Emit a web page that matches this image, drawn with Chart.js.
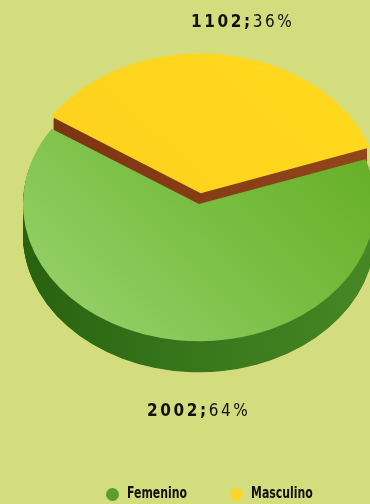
<!DOCTYPE html>
<html>
<head>
<meta charset="utf-8">
<script src="https://cdn.jsdelivr.net/npm/chart.js@4.4.0/dist/chart.umd.min.js"></script>
<style>
  html, body { margin:0; padding:0; background:#d3dd7d; width:370px; height:504px; overflow:hidden; }
  #wrap { position:absolute; left:0; top:0; width:370px; height:504px; }
  .lbl { position:absolute; font-family:"Liberation Sans Narrow","DejaVu Sans Condensed","Open Sans",sans-serif; font-size:17px; color:#111; letter-spacing:2.6px; white-space:nowrap; }
  .lbl b { font-weight:bold; }
  .leg { position:absolute; font-family:"DejaVu Sans Condensed",sans-serif; font-weight:bold; font-size:15px; color:#111; white-space:nowrap; transform:scaleX(0.81); transform-origin:0 50%; }
  .dot { position:absolute; width:13px; height:13px; border-radius:50%; }
</style>
</head>
<body>
<div id="wrap"><canvas id="c" width="370" height="504"></canvas></div>
<script>
const categories = ["Femenino", "Masculino"];
const counts = [2002, 1102];
const percents = [64, 36];

const TILT = 0.78;
const DEPTHS = [31, 13];
const legendColors = ["#5b9e2b", "#fbd52a"];

function topFill(ctx, i) {
  const g = ctx.createLinearGradient(30, 360, 370, 90);
  if (i === 0) {
    g.addColorStop(0, "#9ad26e");
    g.addColorStop(0.5, "#7abf44");
    g.addColorStop(1, "#62ad22");
  } else {
    g.addColorStop(0, "#fdcd1c");
    g.addColorStop(1, "#ffd91e");
  }
  return g;
}
function sideFill(ctx, i) {
  const g = ctx.createLinearGradient(20, 0, 375, 0);
  if (i === 0) {
    g.addColorStop(0, "#28610f");
    g.addColorStop(0.45, "#37751b");
    g.addColorStop(1, "#478724");
  } else {
    g.addColorStop(0, "#7a3210");
    g.addColorStop(1, "#93461a");
  }
  return g;
}

const depthPlugin = {
  id: "depth3d",
  beforeDatasetsDraw(chart) {
    const ctx = chart.ctx;
    const meta = chart.getDatasetMeta(0);
    const a0 = meta.data[0];
    const cx = a0.x, cy = a0.y;
    ctx.save();
    ctx.translate(cx, cy); ctx.scale(1, TILT); ctx.translate(-cx, -cy);
    meta.data.forEach((arc, i) => {
      const off = (arc.options.offset || 0) / 4;  // Chart.js v4 draws arcs offset by offset/4
      const mid = (arc.startAngle + arc.endAngle) / 2;
      const ox = arc.x + Math.cos(mid) * off;
      const oy = arc.y + Math.sin(mid) * off;
      ctx.fillStyle = sideFill(ctx, i);
      for (let k = DEPTHS[i]; k >= 1; k -= 0.5) {
        ctx.beginPath();
        ctx.moveTo(ox, oy + k / TILT);
        ctx.arc(ox, oy + k / TILT, arc.outerRadius, arc.startAngle, arc.endAngle);
        ctx.closePath();
        ctx.fill();
      }
    });
  },
  afterDatasetsDraw(chart) { chart.ctx.restore(); }
};

const chart = new Chart(document.getElementById("c"), {
  type: "pie",
  data: {
    labels: categories,
    datasets: [{
      data: counts,
      backgroundColor: (c) => topFill(c.chart.ctx, c.dataIndex),
      borderWidth: 0,
      offset: [0, 56],
      clip: false
    }]
  },
  options: {
    responsive: false,
    animation: false,
    rotation: 71,
    radius: 176,
    layout: { padding: { left: 28, right: 0, top: 0, bottom: 96 } },
    plugins: { legend: { display: false }, tooltip: { enabled: false } }
  },
  plugins: [depthPlugin]
});

// value labels
const wrap = document.getElementById("wrap");
function addLabel(i, left, top) {
  const d = document.createElement("div");
  d.className = "lbl";
  d.innerHTML = "<b>" + counts[i] + ";</b>" + percents[i] + "%";
  d.style.left = left + "px"; d.style.top = top + "px";
  wrap.appendChild(d);
}
addLabel(1, 191, 11);
addLabel(0, 147, 400);

// legend
const legPos = [[106, 127], [230, 251]];
categories.forEach((name, i) => {
  const dot = document.createElement("div");
  dot.className = "dot";
  dot.style.background = legendColors[i];
  dot.style.left = legPos[i][0] + "px"; dot.style.top = "488px";
  wrap.appendChild(dot);
  const t = document.createElement("div");
  t.className = "leg";
  t.textContent = name;
  t.style.left = legPos[i][1] + "px"; t.style.top = "484px";
  wrap.appendChild(t);
});
</script>
</body>
</html>
